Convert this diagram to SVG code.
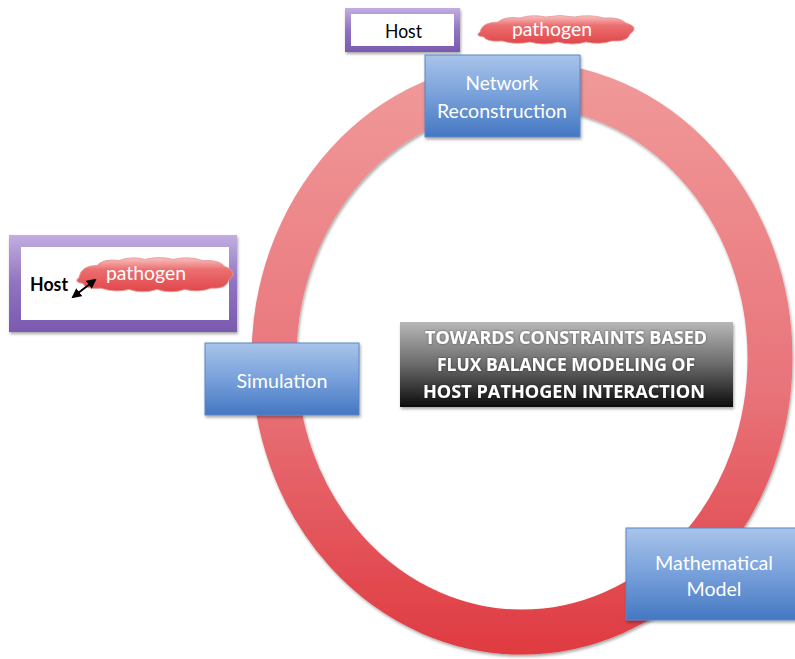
<svg xmlns="http://www.w3.org/2000/svg" xmlns:xlink="http://www.w3.org/1999/xlink" width="795" height="659" viewBox="0 0 795 659">
  <defs>
    <linearGradient id="ringGrad" gradientUnits="userSpaceOnUse" x1="0" y1="60" x2="0" y2="656">
      <stop offset="0" stop-color="#f19a9a"/>
      <stop offset="0.55" stop-color="#e8747a"/>
      <stop offset="1" stop-color="#df3a40"/>
    </linearGradient>
    <linearGradient id="blueGrad" x1="0" y1="0" x2="0" y2="1">
      <stop offset="0" stop-color="#a9c4ea"/>
      <stop offset="0.5" stop-color="#77a0da"/>
      <stop offset="1" stop-color="#4477c2"/>
    </linearGradient>
    <linearGradient id="titleGrad" x1="0" y1="0" x2="0" y2="1">
      <stop offset="0" stop-color="#b8b8b8"/>
      <stop offset="0.5" stop-color="#6a6a6a"/>
      <stop offset="1" stop-color="#0c0c0c"/>
    </linearGradient>
    <linearGradient id="purpleGrad" x1="0" y1="0" x2="0" y2="1">
      <stop offset="0" stop-color="#c2aee0"/>
      <stop offset="0.5" stop-color="#9073c0"/>
      <stop offset="1" stop-color="#7a5ab0"/>
    </linearGradient>
    <linearGradient id="cloudGrad" x1="0" y1="0" x2="0" y2="1">
      <stop offset="0" stop-color="#f8c2c2"/>
      <stop offset="0.35" stop-color="#ec6f70"/>
      <stop offset="1" stop-color="#e04649"/>
    </linearGradient>
    <filter id="shadow" x="-10%" y="-10%" width="120%" height="130%">
      <feDropShadow dx="1" dy="2" stdDeviation="1.5" flood-color="#000" flood-opacity="0.35"/>
    </filter>
    <filter id="glow" x="-5%" y="-20%" width="110%" height="140%">
      <feDropShadow dx="0" dy="0" stdDeviation="1" flood-color="#000" flood-opacity="0.5"/>
    </filter>
    <marker id="arrowHead" viewBox="0 0 10 10" refX="8" refY="5" markerWidth="5" markerHeight="5" orient="auto-start-reverse">
      <path d="M0,0 L10,5 L0,10 z" fill="#000"/>
    </marker>
    <path id="cloud" d="M-76,2 Q-74,-8 -58,-8 Q-51,-14 -36,-12 Q-24,-16 -10,-13 Q4,-16 18,-13 Q34,-16 48,-12 Q64,-13 70,-7 Q84,-3 74,4 Q72,12 56,11 Q44,15 30,12 Q16,16 2,12 Q-12,16 -26,12 Q-40,15 -54,11 Q-70,12 -72,7 Q-82,6 -76,2 Z"/>
  </defs>
  <style>
    .box { fill: url(#blueGrad); stroke: #5b86c6; stroke-width: 1; filter: url(#shadow); }
    .boxText { font-family: Lato, "Open Sans", "Liberation Sans", sans-serif; font-size: 20px; fill: #ffffff; text-anchor: middle; }
    .hostText { font-family: Lato, "Open Sans", "Liberation Sans", sans-serif; font-size: 19px; fill: #000; }
    .pathText { font-family: Lato, "Open Sans", "Liberation Sans", sans-serif; font-size: 19px; fill: #ffffff; }
    .titleText { font-family: "Open Sans", "Liberation Sans", sans-serif; font-weight: bold; font-size: 17px; fill: #ffffff; filter: url(#glow); }
    .cloud { fill: url(#cloudGrad); stroke: #e69898; stroke-width: 0.8; }
  </style>

  <rect width="795" height="659" fill="#ffffff"/>

  <!-- cycle ring linking the steps -->
  <g id="connectors">
    <ellipse cx="522" cy="358" rx="248" ry="274" fill="none" stroke="url(#ringGrad)" stroke-width="45" filter="url(#shadow)"/>
  </g>

  <!-- host / pathogen, separate -->
  <g id="host-top">
    <rect x="345" y="8" width="115" height="44" fill="url(#purpleGrad)" filter="url(#shadow)"/>
    <rect x="351" y="14" width="103" height="32" fill="#ffffff"/>
    <text class="hostText" x="385" y="38" textLength="37" lengthAdjust="spacingAndGlyphs">Host</text>
  </g>
  <g id="pathogen-top">
    <use xlink:href="#cloud" class="cloud" transform="translate(556,30)"/>
    <text class="pathText" x="512" y="36" textLength="80" lengthAdjust="spacingAndGlyphs">pathogen</text>
  </g>

  <!-- host / pathogen, interacting -->
  <g id="host-pathogen">
    <rect x="9" y="235" width="228" height="97" fill="url(#purpleGrad)" filter="url(#shadow)"/>
    <rect x="21" y="247" width="208" height="73" fill="#ffffff"/>
    <use xlink:href="#cloud" class="cloud" transform="translate(155,275) scale(1,1.2)"/>
    <text class="pathText" x="106" y="280" textLength="80" lengthAdjust="spacingAndGlyphs">pathogen</text>
    <text class="hostText" x="30" y="291" font-weight="bold" textLength="38" lengthAdjust="spacingAndGlyphs">Host</text>
    <line x1="73" y1="297" x2="95" y2="280" stroke="#000" stroke-width="2" marker-start="url(#arrowHead)" marker-end="url(#arrowHead)"/>
  </g>

  <g id="network-reconstruction">
    <rect class="box" x="425" y="55" width="155" height="82"/>
    <text class="boxText" x="502" y="90" textLength="73" lengthAdjust="spacingAndGlyphs">Network</text>
    <text class="boxText" x="502" y="118" textLength="130" lengthAdjust="spacingAndGlyphs">Reconstruction</text>
  </g>

  <g id="simulation">
    <rect class="box" x="205" y="343" width="154" height="72"/>
    <text class="boxText" x="282" y="388" textLength="91" lengthAdjust="spacingAndGlyphs">Simulation</text>
  </g>

  <g id="mathematical-model">
    <rect class="box" x="626" y="528" width="175" height="92"/>
    <text class="boxText" x="714" y="570" textLength="118" lengthAdjust="spacingAndGlyphs">Mathematical</text>
    <text class="boxText" x="714" y="596" textLength="55" lengthAdjust="spacingAndGlyphs">Model</text>
  </g>

  <g id="title">
    <rect x="400" y="322" width="333" height="85" fill="url(#titleGrad)" filter="url(#shadow)"/>
    <text class="titleText" x="425" y="344" textLength="282" lengthAdjust="spacingAndGlyphs">TOWARDS CONSTRAINTS BASED</text>
    <text class="titleText" x="437" y="371" textLength="258" lengthAdjust="spacingAndGlyphs">FLUX BALANCE MODELING OF</text>
    <text class="titleText" x="423" y="398" textLength="282" lengthAdjust="spacingAndGlyphs">HOST PATHOGEN INTERACTION</text>
  </g>
</svg>
